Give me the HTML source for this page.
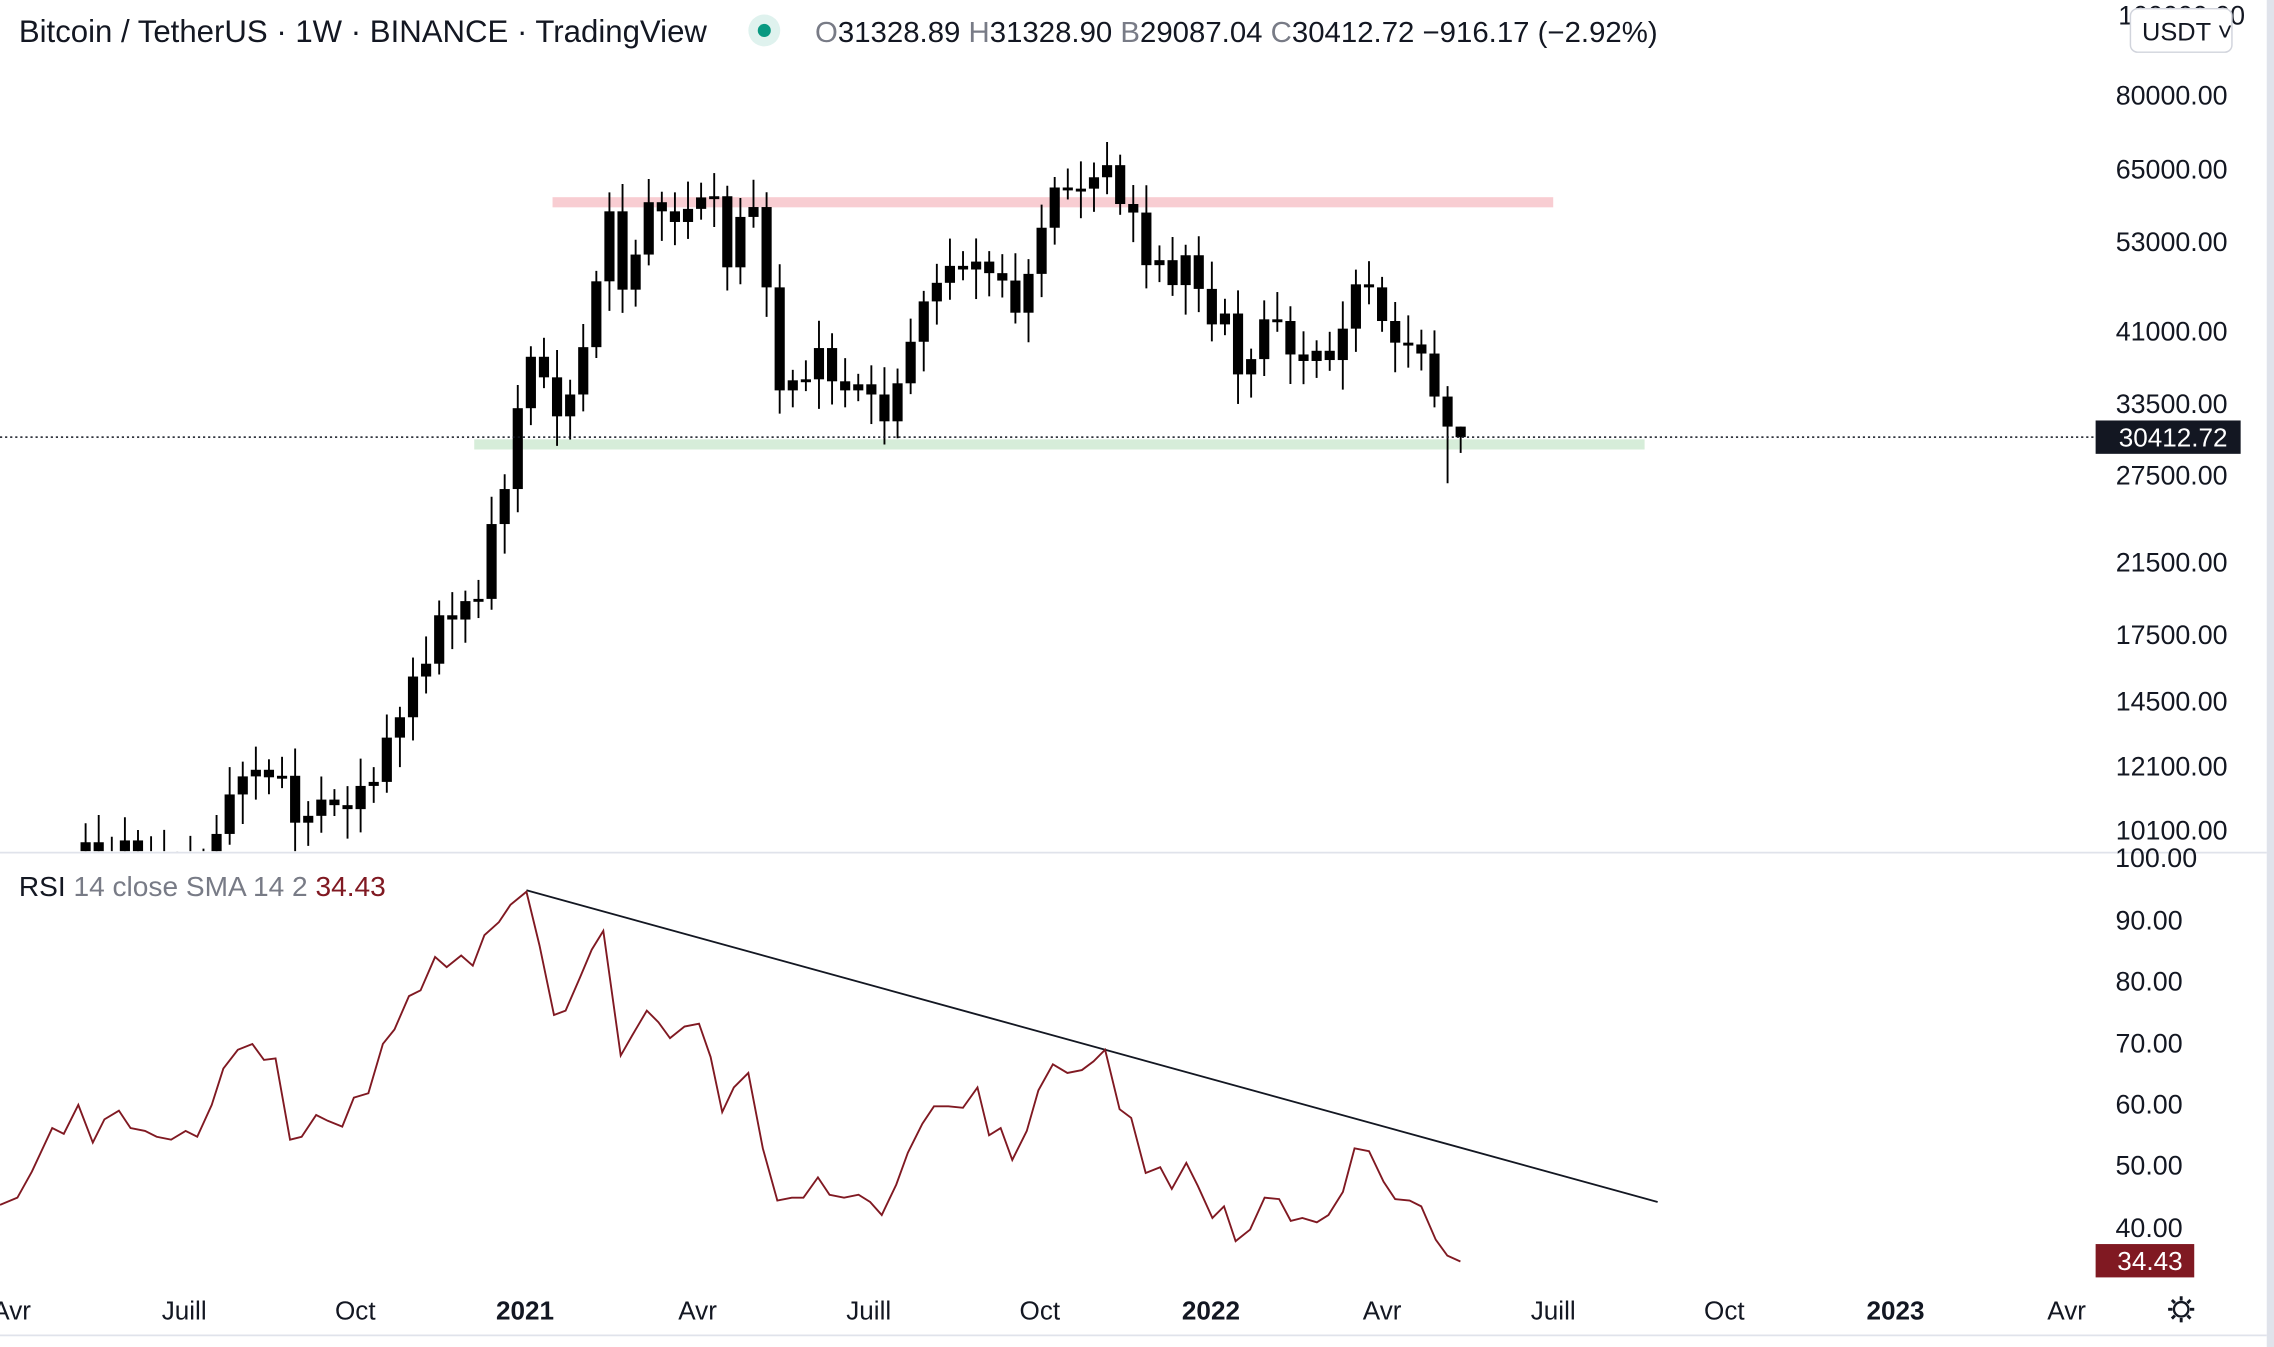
<!DOCTYPE html>
<html><head><meta charset="utf-8"><style>
html,body{margin:0;padding:0;background:#fff;overflow:hidden}
svg{display:block}
text{font-family:"Liberation Sans",sans-serif}
</style></head><body>
<svg id="c" width="2274" height="1347" viewBox="0 0 1568 929" preserveAspectRatio="none" xmlns="http://www.w3.org/2000/svg">
<rect x="0" y="0" width="1568" height="929" fill="#fff"/>
<rect x="1563" y="0" width="5" height="929" fill="#e0e3eb"/>
<defs><clipPath id="pc"><rect x="0" y="0" width="1444" height="587"/></clipPath></defs>
<rect x="381" y="136" width="690" height="7" fill="#f8cdd2"/>
<rect x="327" y="303" width="807" height="7" fill="#d6edd9"/>
<g id="candles" clip-path="url(#pc)"></g>
<line x1="0" y1="301.5" x2="1444" y2="301.5" stroke="#131722" stroke-width="1" stroke-dasharray="1.5,2"/>
<line x1="0" y1="588" x2="1563" y2="588" stroke="#e0e3eb" stroke-width="1.2"/>
<line x1="0" y1="921" x2="1563" y2="921" stroke="#e0e3eb" stroke-width="1.2"/>
<line x1="363" y1="614" x2="1143" y2="829" stroke="#131722" stroke-width="1.3"/>
<polyline id="rsi" fill="none" stroke="#801922" stroke-width="1.3"/>
<g fill="#131722">
<text x="13" y="29" font-size="21.5">Bitcoin / TetherUS · 1W · BINANCE · TradingView</text>
<circle cx="527" cy="21" r="11" fill="#dff2ee"/><circle cx="527" cy="21" r="4.5" fill="#089981"/>
<text x="562" y="29" font-size="20" textLength="581" lengthAdjust="spacingAndGlyphs"><tspan fill="#787b86">O</tspan>31328.89 <tspan fill="#787b86">H</tspan>31328.90 <tspan fill="#787b86">B</tspan>29087.04 <tspan fill="#787b86">C</tspan>30412.72 −916.17 (−2.92%)</text>
<text x="13" y="618" font-size="19" textLength="253" lengthAdjust="spacingAndGlyphs">RSI <tspan fill="#787b86">14 close SMA 14 2</tspan> <tspan fill="#801922">34.43</tspan></text>
</g>
<g font-size="18.5" fill="#131722" text-anchor="end">
<text x="1548" y="17">100000.00</text>
<text x="1536" y="72">80000.00</text>
<text x="1536" y="123">65000.00</text>
<text x="1536" y="173">53000.00</text>
<text x="1536" y="235">41000.00</text>
<text x="1536" y="285">33500.00</text>
<text x="1536" y="334">27500.00</text>
<text x="1536" y="394">21500.00</text>
<text x="1536" y="444">17500.00</text>
<text x="1536" y="490">14500.00</text>
<text x="1536" y="535">12100.00</text>
<text x="1536" y="579">10100.00</text>
<text x="1515" y="598">100.00</text>
<text x="1505" y="641">90.00</text>
<text x="1505" y="683">80.00</text>
<text x="1505" y="726">70.00</text>
<text x="1505" y="768">60.00</text>
<text x="1505" y="810">50.00</text>
<text x="1505" y="853">40.00</text>
</g>
<rect x="1469" y="6" width="70" height="30" rx="5" fill="#fff" stroke="#d1d4dc"/>
<text x="1477" y="28" font-size="17.5" fill="#131722">USDT ˅</text>
<rect x="1445" y="290" width="100" height="23" fill="#131722"/>
<text x="1536" y="308" font-size="18" fill="#fff" text-anchor="end">30412.72</text>
<rect x="1445" y="858" width="68" height="23" fill="#801922"/>
<text x="1505" y="876" font-size="18" fill="#fff" text-anchor="end">34.43</text>
<g font-size="18" fill="#131722" text-anchor="middle">
<text x="8" y="910">Avr</text><text x="127" y="910">Juill</text><text x="245" y="910">Oct</text>
<text x="362" y="910" font-weight="bold">2021</text><text x="481" y="910">Avr</text><text x="599" y="910">Juill</text>
<text x="717" y="910">Oct</text><text x="835" y="910" font-weight="bold">2022</text><text x="953" y="910">Avr</text>
<text x="1071" y="910">Juill</text><text x="1189" y="910">Oct</text><text x="1307" y="910" font-weight="bold">2023</text>
<text x="1425" y="910">Avr</text>
</g>
<g transform="translate(1504,903)" stroke="#131722" stroke-width="1.6" fill="none">
<circle r="5"/><g stroke-width="2"><line x1="0" y1="-9" x2="0" y2="-6"/><line x1="0" y1="9" x2="0" y2="6"/><line x1="-9" y1="0" x2="-6" y2="0"/><line x1="9" y1="0" x2="6" y2="0"/><line x1="-6.4" y1="-6.4" x2="-4.3" y2="-4.3"/><line x1="6.4" y1="6.4" x2="4.3" y2="4.3"/><line x1="-6.4" y1="6.4" x2="-4.3" y2="4.3"/><line x1="6.4" y1="-6.4" x2="4.3" y2="-4.3"/></g>
</g>
</svg>
<script>
var closes=[8700,9700,8900,9450,9750,9350,9300,9000,9070,9250,9200,9930,11100,11680,11900,11650,11700,10250,10450,10940,10770,10650,11370,11500,13030,13800,15480,16050,18400,18180,19150,19270,23800,26270,33000,
38150,36000,32250,34300,39200,47200,57500,46100,50900,59000,57500,55800,57900,59800,60000,49100,56600,58200,46400,34700,35700,35800,39100,35600,34700,35300,34300,31800,35400,39800,44600,47000,49300,48800,49900,48300,47300,43200,48200,54900,61500,61300,61300,63300,65500,58700,57300,49400,50100,46700,50800,46200,
41800,43100,36300,37900,42400,42200,38400,37700,38800,37800,41300,46800,46400,42200,39700,39500,38500,34100,31330,30412];
function Y(p){return 571-244.5*Math.log(p/10100);}
var g=document.getElementById('candles'),s='',prev=8800;
for(var i=0;i<closes.length;i++){
 var c=closes[i],o=(i==closes.length-1)?31329:prev;
 var h=Math.max(o,c)*(1.03+0.05*((i*7)%5)/4),l=Math.min(o,c)*(0.97-0.05*((i*3)%4)/3);
 if(i==closes.length-2)l=26700;
 if(i==closes.length-1){h=31329;l=29087;}
 var x=50+i*9.03;
 s+='<line x1="'+x+'" y1="'+Y(h)+'" x2="'+x+'" y2="'+Y(l)+'" stroke="#000" stroke-width="1.3"/>';
 var t=Y(Math.max(o,c)),b=Y(Math.min(o,c));
 if(b-t<2)b=t+2;
 s+='<rect x="'+(x-3.5)+'" y="'+t+'" width="7" height="'+(b-t)+'" fill="#000"/>';
 prev=c;
}
g.innerHTML=s;
var r=[0,831,12,826,22,808,36,778,44,782,54,762,64,788,72,772,82,766,90,778,100,780,108,784,118,786,128,780,136,784,146,762,154,737,164,724,174,720,182,731,190,730,200,786,208,784,218,769,226,773,236,777,244,757,254,754,264,720,272,710,282,687,290,683,300,660,308,667,318,659,326,666,334,645,344,636,352,624,363,615,372,652,382,700,390,697,400,674,408,655,416,642,428,728,436,714,446,697,454,705,462,716,472,708,482,706,490,729,498,767,506,750,516,740,526,792,536,828,546,826,554,826,564,812,572,824,582,826,592,824,600,829,608,838,618,817,626,795,636,775,644,763,654,763,664,764,674,750,682,783,690,778,698,800,708,780,716,752,726,734,736,740,746,738,754,732,762,724,772,765,780,771,790,809,800,805,808,820,818,802,826,818,836,840,844,832,852,856,862,848,872,826,882,827,890,842,898,840,908,843,916,838,926,822,934,792,944,794,954,815,962,827,972,828,980,832,990,855,998,866,1007,870];
var pts=[];for(var k=0;k<r.length;k+=2)pts.push(r[k]+','+r[k+1]);
document.getElementById('rsi').setAttribute('points',pts.join(' '));
</script>
</body></html>
